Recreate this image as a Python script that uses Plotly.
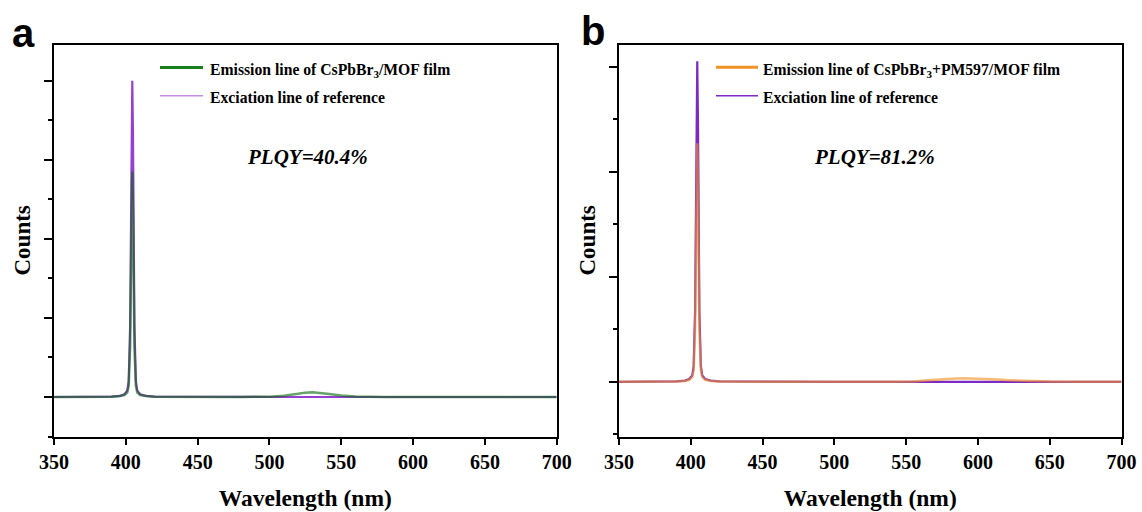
import plotly.graph_objects as go

# ---------------- data (counts in arbitrary units) ----------------
wl_a = [350, 370, 390, 396, 399, 401, 402, 403, 403.5, 404, 404.5, 405, 405.5, 406, 407, 408,
        410, 414, 420, 450, 480, 500, 510, 520, 525, 530, 535, 540, 550, 560, 580, 600, 650, 700]
ref_a = [0, 0, 0.005, 0.015, 0.035, 0.08, 0.2, 0.9, 2.0, 3.4, 4.0, 3.3, 1.9, 0.9, 0.2, 0.08,
         0.035, 0.015, 0.005, 0, 0, 0, 0, 0, 0, 0, 0, 0, 0, 0, 0, 0, 0, 0]
emi_a = [0, 0, 0.004, 0.011, 0.025, 0.057, 0.14, 0.64, 1.42, 2.42, 2.85, 2.35, 1.35, 0.64, 0.14, 0.057,
         0.025, 0.011, 0.004, 0, 0, 0.004, 0.015, 0.04, 0.055, 0.06, 0.055, 0.042, 0.018, 0.005, 0, 0, 0, 0]

wl_b = [350, 370, 390, 396, 399, 401, 402, 403, 403.5, 404, 404.5, 405, 405.5, 406, 407, 408,
        410, 414, 420, 450, 500, 540, 555, 565, 575, 585, 590, 600, 610, 620, 635, 650, 670, 700]
ref_b = [0, 0, 0.004, 0.012, 0.027, 0.06, 0.15, 0.68, 1.5, 2.6, 3.05, 2.5, 1.45, 0.68, 0.15, 0.06,
         0.027, 0.012, 0.004, 0, 0, 0, 0, 0, 0, 0, 0, 0, 0, 0, 0, 0, 0, 0]
emi_b = [0, 0, 0.003, 0.009, 0.02, 0.045, 0.11, 0.5, 1.1, 1.93, 2.27, 1.86, 1.08, 0.5, 0.11, 0.045,
         0.02, 0.009, 0.003, 0, 0, 0, 0.004, 0.015, 0.027, 0.033, 0.035, 0.032, 0.025, 0.017, 0.008, 0.003, 0, 0]

x_ticks = [350, 400, 450, 500, 550, 600, 650, 700]

GREEN = "#0c6a12"
GREEN_LEG = "#17801a"
ORANGE = "#f29224"
PURPLE_A = "#9440d0"
PURPLE_B = "#7d2ac4"

W, H = 1142, 512
SERIF = "Liberation Serif"


def px(x):
    return x / W


def py(y):
    return 1 - y / H


fig = go.Figure()
# panel a: reference below, emission on top (semi-transparent)
fig.add_trace(go.Scatter(x=wl_a, y=ref_a, mode="lines", line=dict(color=PURPLE_A, width=2.2),
                         xaxis="x", yaxis="y", showlegend=False))
fig.add_trace(go.Scatter(x=wl_a, y=emi_a, mode="lines", line=dict(color=GREEN, width=2.5),
                         opacity=0.62, xaxis="x", yaxis="y", showlegend=False))
# panel b
fig.add_trace(go.Scatter(x=wl_b, y=ref_b, mode="lines", line=dict(color=PURPLE_B, width=2.2),
                         xaxis="x2", yaxis="y2", showlegend=False))
fig.add_trace(go.Scatter(x=wl_b, y=emi_b, mode="lines", line=dict(color=ORANGE, width=2.5),
                         opacity=0.62, xaxis="x2", yaxis="y2", showlegend=False))

ydom = [py(436.5), py(44.5)]
xa_dom = [px(54), px(556.7)]
xb_dom = [px(619), px(1121.5)]

tickfont = dict(family=SERIF, size=20, color="black", weight="bold")
common_x = dict(range=[350, 700], tickvals=x_ticks, ticks="outside", ticklen=6, tickwidth=2,
                tickcolor="black", showline=True, linewidth=2, linecolor="black", mirror=True,
                showgrid=False, zeroline=False, tickfont=tickfont, ticklabelstandoff=0, automargin=False,
                title=dict(text="Wavelength (nm)", font=dict(family=SERIF, size=23.5, color="black", weight="bold"),
                           standoff=18))
common_y = dict(ticks="outside", ticklen=8, tickwidth=2, tickcolor="black", showline=True,
                linewidth=2, linecolor="black", mirror=True, showgrid=False, zeroline=False,
                showticklabels=False, dtick=1, tick0=0, automargin=False,
                minor=dict(ticks="outside", ticklen=4, tickwidth=2, tickcolor="black", dtick=0.5, tick0=0.5,
                           showgrid=False))

fig.update_layout(
    width=W, height=H,
    margin=dict(l=0, r=0, t=0, b=0, autoexpand=False),
    paper_bgcolor="white", plot_bgcolor="white",
    showlegend=False,
    xaxis=dict(domain=xa_dom, anchor="y", **common_x),
    yaxis=dict(domain=ydom, anchor="x", range=[-0.5, 4.46], **common_y),
    xaxis2=dict(domain=xb_dom, anchor="y2", **common_x),
    yaxis2=dict(domain=ydom, anchor="x2", range=[-0.52, 3.21], **common_y),
)

ann = []
# panel labels
ann.append(dict(text="a", x=px(23), y=py(33), xref="paper", yref="paper", showarrow=False,
                xanchor="center", yanchor="middle",
                font=dict(family="Liberation Sans", size=40, color="black", weight="bold")))
ann.append(dict(text="b", x=px(593), y=py(31), xref="paper", yref="paper", showarrow=False,
                xanchor="center", yanchor="middle",
                font=dict(family="Liberation Sans", size=40, color="black", weight="bold")))
# y titles
for xc in (22, 587):
    ann.append(dict(text="Counts", x=px(xc), y=py(240.5), xref="paper", yref="paper", showarrow=False,
                    xanchor="center", yanchor="middle",
                    textangle=-90, font=dict(family=SERIF, size=23, color="black", weight="bold")))
# PLQY
ann.append(dict(text="PLQY=40.4%", x=px(307), y=py(157), xref="paper", yref="paper", showarrow=False,
                xanchor="center", yanchor="middle",
                font=dict(family=SERIF, size=21, color="black", weight="bold", style="italic")))
ann.append(dict(text="PLQY=81.2%", x=px(875), y=py(157), xref="paper", yref="paper", showarrow=False,
                xanchor="center", yanchor="middle",
                font=dict(family=SERIF, size=21, color="black", weight="bold", style="italic")))

legfont = dict(family=SERIF, size=15.7, color="black", weight="bold")
legend_items = [
    (160, 203, 67.5, GREEN_LEG, 3, 208, 70, "Emission line of CsPbBr<sub>3</sub>/MOF film"),
    (160, 203, 95.7, "#c48de2", 1.5, 208, 97, "Exciation line of reference"),
    (716, 758, 67.3, ORANGE, 3, 761, 70, "Emission line of CsPbBr<sub>3</sub>+PM597/MOF film"),
    (716, 758, 95.7, PURPLE_B, 1.5, 761, 97, "Exciation line of reference"),
]
shapes = []
for x0, x1, yl, col, lw, tx, ty, txt in legend_items:
    shapes.append(dict(type="line", xref="paper", yref="paper", x0=px(x0), x1=px(x1), y0=py(yl), y1=py(yl),
                       line=dict(color=col, width=lw)))
    ann.append(dict(text=txt, x=px(tx), y=py(ty), xref="paper", yref="paper", showarrow=False,
                    xanchor="left", yanchor="middle", font=legfont))

fig.update_layout(annotations=ann, shapes=shapes)
fig.write_html("out.html")
